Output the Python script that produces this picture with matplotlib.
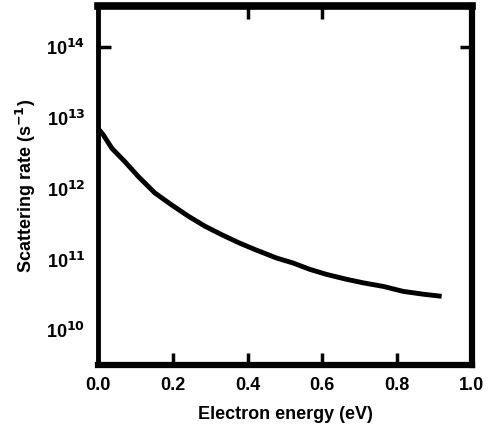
import matplotlib
matplotlib.use('Agg')
import matplotlib.pyplot as plt
import numpy as np

# scattering rate vs electron energy
energy = [0.0, 0.014, 0.037, 0.072, 0.108, 0.152, 0.197, 0.242, 0.286, 0.331,
          0.375, 0.420, 0.478, 0.522, 0.567, 0.611, 0.665, 0.710, 0.763, 0.816,
          0.870, 0.919]
log_rate = [12.85, 12.76, 12.57, 12.38, 12.17, 11.94, 11.77, 11.61, 11.47, 11.35,
            11.24, 11.14, 11.02, 10.95, 10.86, 10.79, 10.72, 10.67, 10.62, 10.55,
            10.51, 10.48]
rate = 10.0 ** np.array(log_rate)

xticks = [0.0, 0.2, 0.4, 0.6, 0.8, 1.0]
xticklabels = ['0.0', '0.2', '0.4', '0.6', '0.8', '1.0']
yticks = [1e10, 1e11, 1e12, 1e13, 1e14]
yticklabels = [r'10$^{10}$', r'10$^{11}$', r'10$^{12}$', r'10$^{13}$', r'10$^{14}$']

plt.rcParams['font.family'] = ['Liberation Sans', 'DejaVu Sans']
plt.rcParams['font.weight'] = 'bold'
plt.rcParams['mathtext.default'] = 'bf'

fig = plt.figure(figsize=(4.88, 4.34), dpi=100)
ax = fig.add_axes([0.201, 0.159, 0.766, 0.827])

ax.plot(energy, rate, color='black', lw=3.5, solid_capstyle='butt')

ax.set_yscale('log')
ax.set_xlim(0.0, 1.0)
ax.set_ylim(10 ** 9.51, 10 ** 14.58)

ax.set_xticks(xticks)
ax.set_xticklabels(xticklabels)
ax.set_yticks(yticks)
ax.set_yticklabels(yticklabels)
ax.minorticks_off()
ax.tick_params(direction='in', length=9, width=2.5, labelsize=13,
               top=True, right=True, pad=9)

# only some tick marks show in the original
for t, v in zip(ax.xaxis.get_major_ticks(), xticks):
    if v in (0.0, 1.0):
        t.tick1line.set_visible(False)
    if v not in (0.4, 0.6):
        t.tick2line.set_visible(False)
for t, v in zip(ax.yaxis.get_major_ticks(), yticks):
    if v != 1e14:
        t.tick1line.set_visible(False)
        t.tick2line.set_visible(False)

for s in ax.spines.values():
    s.set_linewidth(3.5)
ax.spines['top'].set_linewidth(5.5)
ax.spines['right'].set_linewidth(4.5)
ax.spines['bottom'].set_linewidth(4.5)

ax.set_xlabel('Electron energy (eV)', fontsize=13, fontweight='bold', labelpad=8)
ax.set_ylabel(r'Scattering rate (s$^{-1}$)', fontsize=13, fontweight='bold', labelpad=6)

fig.savefig('out.png', dpi=100)
